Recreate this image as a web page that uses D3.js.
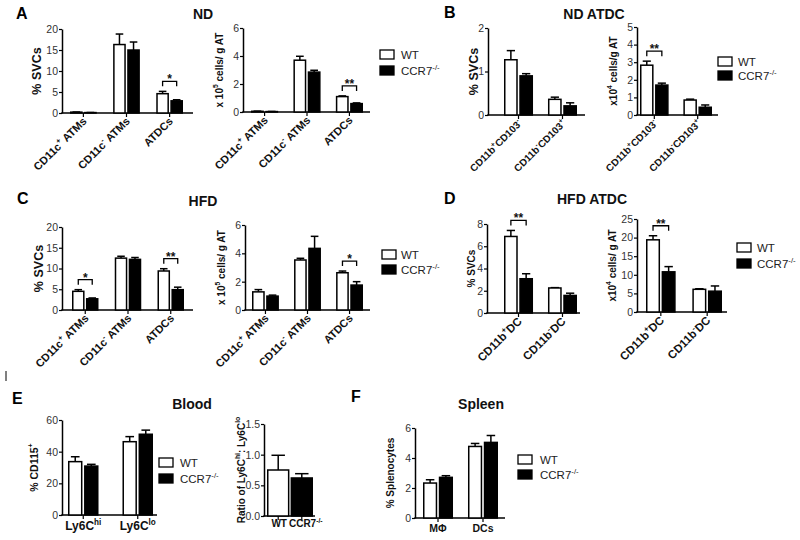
<!DOCTYPE html>
<html><head><meta charset="utf-8">
<script src="https://cdn.jsdelivr.net/npm/d3@7"></script>
<style>
body{margin:0;background:#fff}
svg{display:block}
text{font-family:"Liberation Sans",Arial,Helvetica,sans-serif}
</style>
</head><body>
<svg id="chart" width="800" height="540"></svg>
<script>
// ---------------- DATA ----------------
const seriesNames = ["WT", "CCR7^{-/-}"];

const atmCats = ["CD11c^{+} ATMs", "CD11c^{-} ATMs", "ATDCs"];
const ndCats = ["CD11b^{+}CD103^{-}", "CD11b^{-}CD103^{+}"];
const hfdCats = ["CD11b^{+}DC", "CD11b^{-}DC"];
const bloodCats = ["Ly6C^{hi}", "Ly6C^{lo}"];
const ratioCats = ["WT", "CCR7^{-/-}"];
const spleenCats = ["MΦ", "DCs"];

// A: ND
const ndSvcWT = [0.2, 16.3, 4.6], ndSvcWTErr = [0.03, 2.5, 0.55];
const ndSvcKO = [0.1, 15.0, 2.9], ndSvcKOErr = [0.02, 1.9, 0.25];
const ndSvcSig = ["", "", "*"];
const ndCellWT = [0.05, 3.7, 1.1], ndCellWTErr = [0.01, 0.28, 0.05];
const ndCellKO = [0.03, 2.85, 0.6], ndCellKOErr = [0.01, 0.13, 0.05];
const ndCellSig = ["", "", "**"];
// B: ND ATDC
const ndDcSvcWT = [1.27, 0.36], ndDcSvcWTErr = [0.21, 0.05];
const ndDcSvcKO = [0.9, 0.21], ndDcSvcKOErr = [0.05, 0.07];
const ndDcSvcSig = ["", ""];
const ndDcCellWT = [2.83, 0.85], ndDcCellWTErr = [0.23, 0.05];
const ndDcCellKO = [1.7, 0.44], ndDcCellKOErr = [0.11, 0.13];
const ndDcCellSig = ["**", ""];
// C: HFD
const hfdSvcWT = [4.5, 12.5, 9.4], hfdSvcWTErr = [0.4, 0.45, 0.55];
const hfdSvcKO = [2.7, 12.2, 4.9], hfdSvcKOErr = [0.2, 0.45, 0.6];
const hfdSvcSig = ["*", "", "**"];
const hfdCellWT = [1.28, 3.53, 2.63], hfdCellWTErr = [0.16, 0.12, 0.12];
const hfdCellKO = [0.98, 4.35, 1.76], hfdCellKOErr = [0.07, 0.85, 0.24];
const hfdCellSig = ["", "", "*"];
// D: HFD ATDC
const hfdDcSvcWT = [6.88, 2.25], hfdDcSvcWTErr = [0.54, 0.03];
const hfdDcSvcKO = [3.08, 1.58], hfdDcSvcKOErr = [0.45, 0.2];
const hfdDcSvcSig = ["**", ""];
const hfdDcCellWT = [19.4, 6.1], hfdDcCellWTErr = [1.1, 0.15];
const hfdDcCellKO = [10.8, 5.6], hfdDcCellKOErr = [1.4, 1.4];
const hfdDcCellSig = ["**", ""];
// E: Blood
const bloodWT = [33.7, 46.3], bloodWTErr = [3.1, 3.2];
const bloodKO = [30.9, 51.0], bloodKOErr = [1.1, 2.6];
const bloodSig = ["", ""];
const ratioVals = [0.75, 0.62], ratioErr = [0.24, 0.07];
// F: Spleen
const spleenWT = [2.33, 4.77], spleenWTErr = [0.22, 0.2];
const spleenKO = [2.71, 5.04], spleenKOErr = [0.11, 0.46];
const spleenSig = ["", ""];

// tick labels
const ticksSvc20 = [0, 5, 10, 15, 20];
const ticks6 = [0, 2, 4, 6];
const ticks2 = [0, 1, 2];
const ticks5 = [0, 1, 2, 3, 4, 5];
const ticks8 = [0, 2, 4, 6, 8];
const ticks25 = [0, 5, 10, 15, 20, 25];
const ticks60 = [0, 20, 40, 60];
const ticksRatio = [0, 0.5, 1.0, 1.5];

// ---------------- LAYOUT ----------------
const svg = d3.select("#chart");
const FONT = '"Liberation Sans",Arial,Helvetica,sans-serif';

function rich(sel, str, fs) {
  const parts = str.split(/(\^\{[^}]*\})/).filter(s => s.length);
  const shift = fs * 0.42;
  let raised = false;
  parts.forEach(s => {
    const m = s.match(/^\^\{([^}]*)\}$/);
    if (m) {
      sel.append("tspan").attr("font-size", fs * 0.68).attr("dy", -shift).text(m[1]);
      raised = true;
    } else {
      const t = sel.append("tspan").text(s);
      if (raised) { t.attr("dy", shift); raised = false; }
    }
  });
}

const panels = [
  {cats: atmCats, wt: ndSvcWT, wtErr: ndSvcWTErr, ko: ndSvcKO, koErr: ndSvcKOErr, sig: ndSvcSig,
   ticks: ticksSvc20, yLabel: "% SVCs", ylFs: 12.5, lblFs: 11, x0: 62, x1: 193, yTop: 29, yBot: 113, g0: 70, g1: 183, pad: 0.38, lx: 37, rot: true},
  {cats: atmCats, wt: ndCellWT, wtErr: ndCellWTErr, ko: ndCellKO, koErr: ndCellKOErr, sig: ndCellSig,
   ticks: ticks6, yLabel: "x 10^{5} cells/ g AT", ylFs: 10, lblFs: 11, x0: 243, x1: 370, yTop: 28, yBot: 112, g0: 251, g1: 363, pad: 0.36, lx: 219, rot: true},
  {cats: ndCats, wt: ndDcSvcWT, wtErr: ndDcSvcWTErr, ko: ndDcSvcKO, koErr: ndDcSvcKOErr, sig: ndDcSvcSig,
   ticks: ticks2, yLabel: "% SVCs", ylFs: 12.5, lblFs: 10, x0: 488, x1: 585, yTop: 28, yBot: 115, g0: 504, g1: 577, pad: 0.34, lx: 474, rot: true},
  {cats: ndCats, wt: ndDcCellWT, wtErr: ndDcCellWTErr, ko: ndDcCellKO, koErr: ndDcCellKOErr, sig: ndDcCellSig,
   ticks: ticks5, yLabel: "x10^{4} cells/g AT", ylFs: 10, lblFs: 10, x0: 637, x1: 718, yTop: 27, yBot: 115, g0: 640, g1: 712, pad: 0.34, lx: 613, rot: true},
  {cats: atmCats, wt: hfdSvcWT, wtErr: hfdSvcWTErr, ko: hfdSvcKO, koErr: hfdSvcKOErr, sig: hfdSvcSig,
   ticks: ticksSvc20, yLabel: "% SVCs", ylFs: 12.5, lblFs: 11, x0: 62, x1: 193, yTop: 227, yBot: 310, g0: 72, g1: 184, pad: 0.38, lx: 39, rot: true},
  {cats: atmCats, wt: hfdCellWT, wtErr: hfdCellWTErr, ko: hfdCellKO, koErr: hfdCellKOErr, sig: hfdCellSig,
   ticks: ticks6, yLabel: "x 10^{5} cells/ g AT", ylFs: 10, lblFs: 11, x0: 245, x1: 370, yTop: 225, yBot: 310, g0: 252, g1: 363, pad: 0.36, lx: 221, rot: true},
  {cats: hfdCats, wt: hfdDcSvcWT, wtErr: hfdDcSvcWTErr, ko: hfdDcSvcKO, koErr: hfdDcSvcKOErr, sig: hfdDcSvcSig,
   ticks: ticks8, yLabel: "% SVCs", ylFs: 10, lblFs: 11.5, x0: 487, x1: 580, yTop: 224, yBot: 313, g0: 504, g1: 577, pad: 0.34, lx: 471, rot: true},
  {cats: hfdCats, wt: hfdDcCellWT, wtErr: hfdDcCellWTErr, ko: hfdDcCellKO, koErr: hfdDcCellKOErr, sig: hfdDcCellSig,
   ticks: ticks25, yLabel: "x10^{4} cells/ g AT", ylFs: 10, lblFs: 11.5, x0: 637, x1: 727, yTop: 219, yBot: 312, g0: 646, g1: 722, pad: 0.36, lx: 612, rot: true},
  {cats: bloodCats, wt: bloodWT, wtErr: bloodWTErr, ko: bloodKO, koErr: bloodKOErr, sig: bloodSig,
   ticks: ticks60, yLabel: "% CD115^{+}", ylFs: 10.5, lblFs: 12, x0: 62, x1: 157, yTop: 420, yBot: 515, g0: 68, g1: 153, pad: 0.44, lx: 34, rot: false, lblY: 530},
  {cats: ratioCats, single: true, vals: ratioVals, errs: ratioErr,
   ticks: ticksRatio, fmt: d3.format(".1f"), yLabel: "Ratio of Ly6C^{hi}: Ly6C^{lo}", ylFs: 10, lblFs: 10,
   x0: 264, x1: 315, yTop: 424, yBot: 516, g0: 267, g1: 313, pad: 0.05, lx: 241, rot: false, lblY: 527, lblDx: [1, 4]},
  {cats: spleenCats, wt: spleenWT, wtErr: spleenWTErr, ko: spleenKO, koErr: spleenKOErr, sig: spleenSig,
   ticks: ticks6, yLabel: "% Splenocytes", ylFs: 10, lblFs: 10.5, x0: 415, x1: 505, yTop: 428, yBot: 518, g0: 423, g1: 498, pad: 0.333, lx: 390, rot: false, lblY: 532}
];

const SW = 1.5;

function drawPanel(p) {
  const g = svg.append("g");
  const y = d3.scaleLinear().domain([0, d3.max(p.ticks)]).range([p.yBot, p.yTop]);
  const xg = d3.scaleBand().domain(d3.range(p.cats.length)).range([p.g0, p.g1]).paddingInner(p.pad);
  const bw = xg.bandwidth();

  // y axis
  const ya = g.append("g").attr("transform", `translate(${p.x0},0)`)
    .call(d3.axisLeft(y).tickValues(p.ticks).tickSize(3).tickSizeOuter(0).tickPadding(1)
      .tickFormat(p.fmt || d3.format("d")));
  ya.select(".domain").attr("stroke", "#000").attr("stroke-width", SW);
  ya.selectAll(".tick line").attr("stroke", "#000").attr("stroke-width", 1.2);
  ya.selectAll(".tick text").attr("fill", "#333").attr("font-size", 10.5).attr("font-family", FONT);

  // x axis line + ticks
  g.append("line").attr("x1", p.x0 - 0.75).attr("x2", p.x1).attr("y1", p.yBot).attr("y2", p.yBot)
    .attr("stroke", "#000").attr("stroke-width", SW);

  const centers = p.cats.map((c, i) => xg(i) + bw / 2);
  centers.forEach(cx => {
    g.append("line").attr("x1", cx).attr("x2", cx).attr("y1", p.yBot).attr("y2", p.yBot + 4)
      .attr("stroke", "#000").attr("stroke-width", 1.2);
  });

  function bar(x, w, v, e, fill) {
    const cx = x + w / 2;
    const capW = Math.max(6, w * 0.6);
    g.append("line").attr("x1", cx).attr("x2", cx).attr("y1", y(v)).attr("y2", y(v + e))
      .attr("stroke", "#000").attr("stroke-width", SW);
    g.append("line").attr("x1", cx - capW / 2).attr("x2", cx + capW / 2).attr("y1", y(v + e)).attr("y2", y(v + e))
      .attr("stroke", "#000").attr("stroke-width", SW);
    g.append("rect").attr("x", x + 0.75).attr("y", y(v)).attr("width", Math.max(0, w - 1.5))
      .attr("height", Math.max(0, p.yBot - y(v)))
      .attr("fill", fill).attr("stroke", "#000").attr("stroke-width", SW);
    return cx;
  }

  if (p.single) {
    p.vals.forEach((v, i) => bar(xg(i), bw, v, p.errs[i], i === 0 ? "#fff" : "#000"));
  } else {
    const xs = d3.scaleBand().domain([0, 1]).range([0, bw]).paddingInner(0.1);
    p.cats.forEach((c, i) => {
      const cw = bar(xg(i) + xs(0), xs.bandwidth(), p.wt[i], p.wtErr[i], "#fff");
      const ck = bar(xg(i) + xs(1), xs.bandwidth(), p.ko[i], p.koErr[i], "#000");
      if (p.sig[i]) {
        const top = Math.min(y(p.wt[i] + p.wtErr[i]), y(p.ko[i] + p.koErr[i])) - 10;
        g.append("path").attr("d", `M${cw},${top + 5}V${top}H${ck}V${top + 5}`)
          .attr("fill", "none").attr("stroke", "#000").attr("stroke-width", 1.3);
        g.append("text").attr("x", (cw + ck) / 2).attr("y", top + 2).attr("text-anchor", "middle")
          .attr("font-size", 12).attr("font-weight", "bold").attr("fill", "#111").text(p.sig[i]);
      }
    });
  }

  // category labels
  p.cats.forEach((c, i) => {
    const cx = centers[i];
    if (p.rot) {
      const t = g.append("text").attr("transform", `translate(${cx + 4},${p.yBot + 9}) rotate(-45)`)
        .attr("text-anchor", "end").attr("font-size", p.lblFs).attr("font-weight", "bold").attr("fill", "#111");
      rich(t, c, p.lblFs);
    } else {
      const dx = p.lblDx ? p.lblDx[i] : 0;
      const t = g.append("text").attr("x", cx + dx).attr("y", p.lblY).attr("text-anchor", "middle")
        .attr("font-size", p.lblFs).attr("font-weight", "bold").attr("fill", "#111");
      rich(t, c, p.lblFs);
    }
  });

  // y label
  const yl = g.append("text").attr("transform", `translate(${p.lx},${(p.yTop + p.yBot) / 2}) rotate(-90)`)
    .attr("text-anchor", "middle").attr("dy", "0.35em").attr("font-size", p.ylFs).attr("font-weight", "bold").attr("fill", "#111");
  rich(yl, p.yLabel, p.ylFs);
}

panels.forEach(drawPanel);

// legends
const legends = [
  {bx: 380, y: [50, 66], tx: 401},
  {bx: 718, y: [57, 71], tx: 738},
  {bx: 382, y: [250, 265], tx: 401},
  {bx: 737, y: [243, 259], tx: 757},
  {bx: 159, y: [458, 474], tx: 180},
  {bx: 518, y: [455, 470], tx: 540}
];
legends.forEach(L => {
  seriesNames.forEach((s, i) => {
    svg.append("rect").attr("x", L.bx).attr("y", L.y[i]).attr("width", 14).attr("height", 9)
      .attr("fill", i === 0 ? "#fff" : "#000").attr("stroke", "#000").attr("stroke-width", 1.3);
    const t = svg.append("text").attr("x", L.tx).attr("y", L.y[i] + 4.5).attr("dy", "0.36em")
      .attr("font-size", 11.5).attr("fill", "#222");
    rich(t, s, 11.5);
  });
});

// titles and panel letters
const titles = [
  {t: "ND", x: 203, y: 19}, {t: "ND ATDC", x: 594, y: 19},
  {t: "HFD", x: 203, y: 206}, {t: "HFD ATDC", x: 592, y: 204},
  {t: "Blood", x: 192, y: 409}, {t: "Spleen", x: 481, y: 409}
];
titles.forEach(d => svg.append("text").attr("x", d.x).attr("y", d.y).attr("text-anchor", "middle")
  .attr("font-size", 14).attr("font-weight", "bold").attr("fill", "#111").text(d.t));

const letters = [
  {t: "A", x: 16, y: 19}, {t: "B", x: 444, y: 18},
  {t: "C", x: 17, y: 204}, {t: "D", x: 444, y: 204},
  {t: "E", x: 12, y: 404}, {t: "F", x: 351, y: 402}
];
letters.forEach(d => svg.append("text").attr("x", d.x).attr("y", d.y)
  .attr("font-size", 16).attr("font-weight", "bold").attr("fill", "#000").text(d.t));

// small stray mark at left edge
svg.append("line").attr("x1", 6).attr("x2", 6).attr("y1", 371).attr("y2", 381).attr("stroke", "#000").attr("stroke-width", 1);
</script>
</body></html>
